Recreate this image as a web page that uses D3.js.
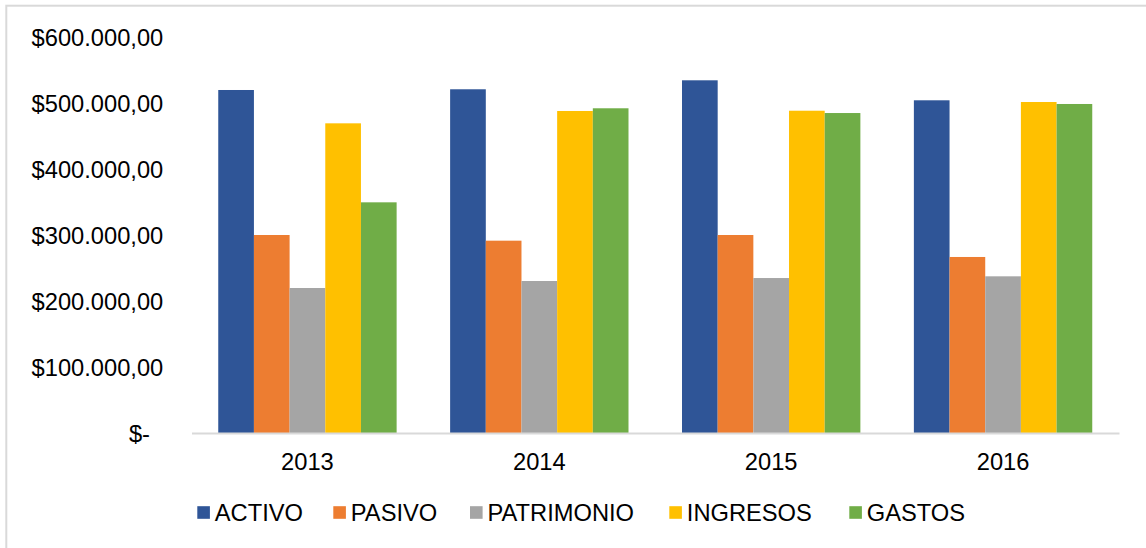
<!DOCTYPE html>
<html>
<head>
<meta charset="utf-8">
<script src="https://cdn.jsdelivr.net/npm/d3@7"></script>
<style>
  html, body { margin: 0; padding: 0; background: #fff; }
  svg { display: block; }
  text { font-family: "Liberation Sans", Arial, sans-serif; fill: #000; }
</style>
</head>
<body>
<svg id="chart" width="1146" height="548"></svg>
<script>
const categories = ["2013", "2014", "2015", "2016"];
const seriesNames = ["ACTIVO", "PASIVO", "PATRIMONIO", "INGRESOS", "GASTOS"];
const activo     = [519700, 520800, 534400, 504100];
const pasivo     = [300000, 291400, 300000, 266700];
const patrimonio = [219700, 230300, 234800, 237400];
const ingresos   = [469200, 487900, 488300, 501500];
const gastos     = [349500, 492000, 484800, 498500];
const yTicks = [0, 100000, 200000, 300000, 400000, 500000, 600000];
const colors = ["#2F5597", "#ED7D31", "#A5A5A5", "#FFC000", "#70AD47"];

const seriesValues = [activo, pasivo, patrimonio, ingresos, gastos];

const svg = d3.select("#chart");
const FONT = 23.7;

// frame
svg.append("rect")
  .attr("x", 6.3).attr("y", 5.7)
  .attr("width", 1200).attr("height", 600)
  .attr("fill", "none").attr("stroke", "#d9d9d9").attr("stroke-width", 2);

const x0 = d3.scaleBand().domain(categories).range([191.5, 1119]).paddingInner(0).paddingOuter(0);
const groupPad = 26.75;
const x1 = d3.scaleBand().domain(seriesNames)
  .range([groupPad, x0.bandwidth() - groupPad]).padding(0);
const y = d3.scaleLinear().domain([0, 600000]).range([433, 37]);

// bars
const groups = svg.append("g").selectAll("g")
  .data(categories).join("g")
  .attr("transform", d => `translate(${x0(d)},0)`);

groups.selectAll("rect")
  .data((c, ci) => seriesNames.map((s, si) => ({ s, si, v: seriesValues[si][ci] })))
  .join("rect")
  .attr("x", d => x1(d.s))
  .attr("width", x1.bandwidth())
  .attr("y", d => y(d.v))
  .attr("height", d => y(0) - y(d.v))
  .attr("fill", d => colors[d.si]);

// y axis labels
const fmt = v => {
  if (v === 0) return "$-";
  const s = d3.format(",.2f")(v);
  return "$" + s.replace(/,/g, "#").replace(".", ",").replace(/#/g, ".");
};
const yAxis = d3.axisLeft(y).tickValues(yTicks).tickFormat(fmt).tickSize(0).tickPadding(0);
const yg = svg.append("g").attr("transform", "translate(163.3,0)").call(yAxis);
yg.select(".domain").remove();
yg.selectAll("text")
  .attr("font-size", FONT)
  .attr("font-family", "Liberation Sans, Arial, sans-serif")
  .attr("fill", "#000")
  .attr("dy", "0.35em")
  .attr("dx", d => d === 0 ? -13.3 : 0);

// x axis
const xAxis = d3.axisBottom(x0).tickSize(0).tickPadding(0);
const xg = svg.append("g").attr("transform", "translate(0,433)").call(xAxis);
xg.select(".domain").attr("stroke", "#d9d9d9").attr("stroke-width", 2);
xg.selectAll("text")
  .attr("font-size", FONT)
  .attr("font-family", "Liberation Sans, Arial, sans-serif")
  .attr("fill", "#000")
  .attr("y", 29).attr("dy", "0.35em");

// legend
const legend = svg.append("g").attr("transform", "translate(0,512.5)");
const legendX = [197.3, 333.3, 470, 669.3, 849.3];
seriesNames.forEach((name, i) => {
  legend.append("rect")
    .attr("x", legendX[i]).attr("y", -6.3)
    .attr("width", 12.6).attr("height", 12.6)
    .attr("fill", colors[i]);
  legend.append("text")
    .attr("x", legendX[i] + 17.5).attr("y", 0).attr("dy", "0.35em")
    .attr("font-size", FONT)
    .text(name);
});
</script>
</body>
</html>
